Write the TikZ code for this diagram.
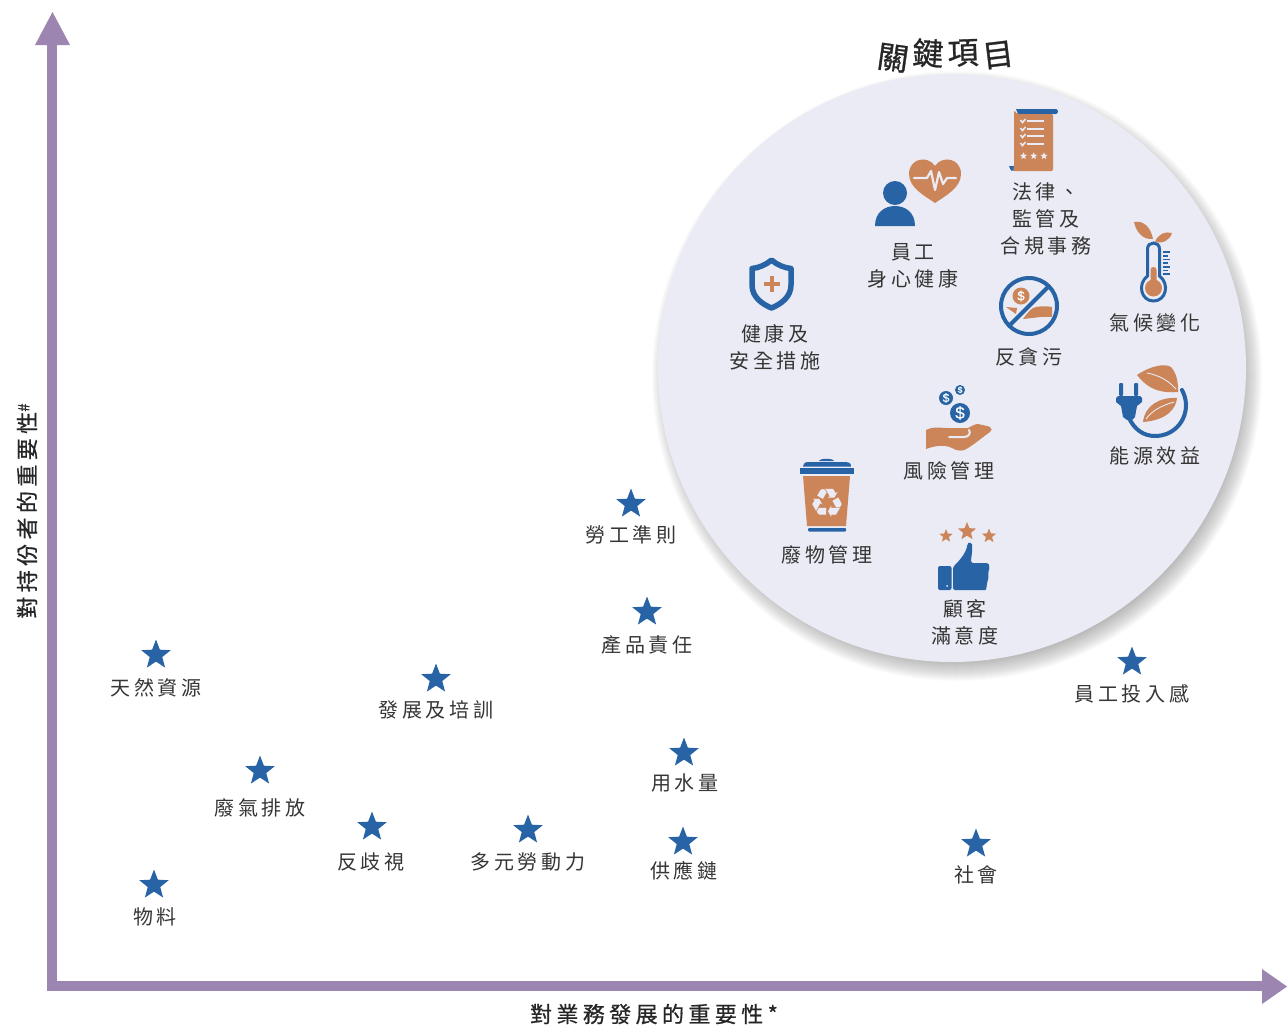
\documentclass[tikz,border=0pt]{standalone}
\usepackage{fontspec}
\setmainfont[LetterSpace=18]{Noto Sans CJK TC}
\newfontfamily\strongfont[LetterSpace=20,FakeBold=0.7]{Noto Sans CJK TC}
\newfontfamily\titlefont[FakeBold=0.9]{Noto Sans CJK TC}
\newfontfamily\dollarfont[FakeBold=0.5]{Liberation Sans}
\newfontfamily\symfont{DejaVu Sans}
\usetikzlibrary{shapes.geometric}
\definecolor{axisc}{HTML}{9D85B2}
\definecolor{bluec}{HTML}{2763A5}
\definecolor{orangec}{HTML}{CC8559}
\definecolor{discc}{HTML}{EAEBF4}
\definecolor{textc}{HTML}{353535}
\tikzset{
  lbl/.style={text=textc,align=center,inner sep=0pt,font=\fontsize{20}{27}\selectfont},
  bigstar/.style={star,star points=5,star point ratio=2.35,fill=bluec,draw=none,minimum size=31pt,inner sep=0pt},
  ostar/.style={star,star points=5,star point ratio=2.3,fill=orangec,draw=none,inner sep=0pt},
  wstar/.style={star,star points=5,star point ratio=2.3,fill=discc,draw=none,inner sep=0pt,minimum size=7.5pt},
  axisline/.style={line width=10.5pt,draw=axisc},
  axistext/.style={text=black!85,inner sep=0pt,font=\strongfont\fontsize{22}{25}\selectfont},
  title/.style={text=black!85,inner sep=0pt,font=\titlefont\fontsize{31}{32}\selectfont},
  coin/.style={circle,fill=bluec,inner sep=0pt,text=white}
}
\begin{document}
\begin{tikzpicture}[x=1pt,y=-1pt]
\useasboundingbox (0,0) rectangle (1287,1026);
% axes
\coordinate (orig) at (52,986);
\coordinate (ytip) at (52,40);
\coordinate (xtip) at (1266,986);
\draw[axisline,line cap=rect] (ytip) -- (orig);
\draw[axisline] (orig) -- (xtip);
\fill[axisc] (35,45) -- (52.5,12) -- (70,45) -- cycle;
\fill[axisc] (1262,969) -- (1287,986.5) -- (1262,1004) -- cycle;
\node[axistext] (xlab) at (654,1014) {對業務發展的重要性*};
\node[axistext,rotate=90] (ylab) at (27,511) {對持份者的重要性\raisebox{6pt}{\fontsize{15}{15}\selectfont\#}};
% disc with shadow
\foreach \r in {278,279,...,305}{
  \fill[black,opacity=0.015] (957,376) circle [radius=\r];
}
\fill[discc] (952,368) circle [radius=294];
% title
\node[title,rotate=-8] (t1) at (893,58) {關};
\node[title,rotate=-3] (t2) at (928,53) {鍵};
\node[title,rotate=2] (t3) at (963,53) {項};
\node[title,rotate=7] (t4) at (998,55) {目};
% outer stars
\foreach \n/\x/\y in {a/631/504,b/647/612,c/156/655,d/436/679,e/1132/662,f/684/753,g/260/771,h/372/827,i/528/830,j/683/842,k/976/844,l/154/885}{
  \node[bigstar] (s\n) at (\x,\y) {};
}
\node[lbl] (la) at (631,535) {勞工準則};
\node[lbl] (lb) at (647,645) {產品責任};
\node[lbl] (lc) at (156,688) {天然資源};
\node[lbl] (ld) at (436,710) {發展及培訓};
\node[lbl] (le) at (1132,694) {員工投入感};
\node[lbl] (lf) at (685,783) {用水量};
\node[lbl] (lg) at (260,808) {廢氣排放};
\node[lbl] (lh) at (371,862) {反歧視};
\node[lbl] (li) at (528,862) {多元勞動力};
\node[lbl] (lj) at (684,871) {供應鏈};
\node[lbl] (lk) at (976,875) {社會};
\node[lbl] (ll) at (155,917) {物料};
% disc labels
\node[lbl] (m1) at (1046,219) {法律、\\監管及\\合規事務};
\node[lbl] (m2) at (913,265.5) {員工\\身心健康};
\node[lbl] (m3) at (775,347.5) {健康及\\安全措施};
\node[lbl] (m4) at (1155,323) {氣候變化};
\node[lbl] (m5) at (1029,357) {反貪污};
\node[lbl] (m6) at (1155,456) {能源效益};
\node[lbl] (m7) at (949,471) {風險管理};
\node[lbl] (m8) at (827,555) {廢物管理};
\node[lbl] (m9) at (965,622.5) {顧客\\滿意度};
% heart + person
\fill[orangec] (935,203) .. controls (925,196) and (909,188) .. (909,174) .. controls (909,158) and (928,155) .. (935,166) .. controls (942,155) and (961,158) .. (961,174) .. controls (961,188) and (945,196) .. (935,203) -- cycle;
\draw[discc,line width=2.2pt,line join=round,line cap=round] (914,178) -- (927,178) -- (931,171) -- (935,190) -- (939,172) -- (943,184) -- (947,178) -- (956,178);
\fill[bluec] (895,193) circle [radius=12];
\fill[bluec] (875,226) .. controls (875,212) and (885,206) .. (895,206) .. controls (905,206) and (915,212) .. (915,226) -- cycle;
% scroll
\fill[bluec] (1016,109) -- (1056,109) .. controls (1058.5,109) and (1058.5,114) .. (1056,114) -- (1018,114) -- cycle;
\fill[bluec] (1009,166) -- (1015,166) -- (1015,170.5) -- (1011,170.5) -- cycle;
\fill[orangec,rounded corners=1.5pt] (1014,110) -- (1017,114) -- (1053,114) -- (1053,171) -- (1013,171) -- (1014,166) -- cycle;
\foreach \y in {121,129,136,144}{
  \draw[discc,line width=1.6pt] (1027,\y) -- (1044,\y);
  \draw[discc,line width=1.6pt] (1020.5,\y-1) -- (1022.5,\y+1.5) -- (1025.5,\y-2);
}
\foreach \n/\x in {1/1023.5,2/1033.7,3/1044}{\node[wstar] (sc\n) at (\x,156) {};}
% thermometer
\fill[orangec] (1134,222) .. controls (1144,220) and (1151,228) .. (1153,239) .. controls (1143,240) and (1136,232) .. (1134,222) -- cycle;
\fill[orangec] (1155,242) .. controls (1158,234) and (1165,231) .. (1172,233) .. controls (1170,240) and (1163,244) .. (1155,242) -- cycle;
\draw[bluec,line width=3pt] (1147.5,276) -- (1147.5,249) .. controls (1147.5,241) and (1159.5,241) .. (1159.5,249) -- (1159.5,276) .. controls (1170,284) and (1166,301) .. (1153.5,301) .. controls (1141,301) and (1137,284) .. (1147.5,276) -- cycle;
\fill[orangec] (1150.5,270) .. controls (1150.5,266) and (1156.5,266) .. (1156.5,270) -- (1156.5,282) -- (1150.5,282) -- cycle;
\fill[orangec] (1153.5,288) circle [radius=8.5];
\foreach \y/\w in {252/7,255.7/5,259.4/7,263.1/5,266.8/7,270.5/5,274.2/7}{
  \draw[bluec,line width=1.8pt] (1163,\y) -- (1163+\w,\y);
}
% no-corruption
\draw[bluec,line width=4pt] (1029,306) circle [radius=28];
\node[coin,fill=orangec,minimum size=17pt,font=\dollarfont\fontsize{13}{13}\selectfont] (c0) at (1021,296) {\$};
\fill[orangec] (1006,307) -- (1017,308) -- (1016,314) -- cycle;
\fill[orangec] (1023,319) .. controls (1028,312) and (1031,308) .. (1036,307) .. controls (1042,306) and (1047,306) .. (1052,307) -- (1052,317) .. controls (1044,316) and (1034,318) .. (1023,319) -- cycle;
\draw[discc,line width=7pt] (1015,320) -- (1043,292);
\draw[bluec,line width=4pt] (1010,325) -- (1049,286);
% shield
\draw[bluec,line width=5.5pt,line join=round] (771.5,260) .. controls (777,265) and (785,268) .. (791,268.5) -- (791,285) .. controls (791,297) and (781,304) .. (771.5,308) .. controls (762,304) and (752,297) .. (752,285) -- (752,268.5) .. controls (758,268) and (766,265) .. (771.5,260) -- cycle;
\fill[orangec] (770,276) rectangle (774,292);
\fill[orangec] (764,282) rectangle (780,286);
% coins + hand
\node[coin,minimum size=14pt,font=\dollarfont\fontsize{12}{12}\selectfont] (c1) at (946,398) {\$};
\node[coin,minimum size=10pt,font=\dollarfont\fontsize{8.5}{8.5}\selectfont] (c2) at (960,390) {\$};
\node[coin,minimum size=20pt,font=\dollarfont\fontsize{17}{17}\selectfont] (c3) at (960,413) {\$};
\fill[orangec] (926,430) .. controls (934,426) and (941,428) .. (947,428) -- (968,428) .. controls (972,426) and (975,424) .. (978,424) .. controls (982,425) and (988,426) .. (990,427) .. controls (992,428) and (992,431) .. (990,432) .. controls (984,436) and (976,443) .. (968,448) .. controls (963,452) and (957,451) .. (952,448) .. controls (944,444) and (934,446) .. (926,449) -- cycle;
\draw[discc,line width=2pt,line cap=round] (949,437) -- (964,437) .. controls (969,437) and (971,433) .. (969,430);
% bin
\fill[bluec] (819,461) .. controls (820,458) and (833,458) .. (834,461) -- cycle;
\fill[bluec] (803,466.5) .. controls (804,462) and (806,462) .. (808,462) -- (846,462) .. controls (849,462) and (851,463) .. (851,466.5) -- cycle;
\fill[bluec] (800,468) rectangle (854,474);
\fill[orangec] (803,476) -- (850,476) -- (846,526) -- (807,526) -- cycle;
\fill[bluec,rounded corners=1pt] (808,528) rectangle (846,531.5);
\node[text=discc,inner sep=0pt,font=\symfont\fontsize{40}{40}\selectfont] (rec) at (827,503) {♻};
% thumb
\node[ostar,minimum size=14pt] (st1) at (946,536) {};
\node[ostar,minimum size=19pt] (st2) at (967,531.5) {};
\node[ostar,minimum size=15pt] (st3) at (989,536) {};
\fill[bluec,rounded corners=2pt] (938,566) rectangle (951.5,590);
\fill[discc] (947,586) circle [radius=1];
\fill[bluec,rounded corners=1.5pt] (953,590) -- (953,567) .. controls (960,560) and (966,553) .. (967.5,544) .. controls (969,542) and (972,543) .. (972,546) .. controls (972.5,552) and (971,558) .. (971,563) -- (988,563) .. controls (990,566) and (989,570) .. (988,572) .. controls (989,576) and (988,580) .. (987,582) .. controls (987,586) and (986,590) .. (984,590) -- cycle;
% plug + leaves
\fill[orangec] (1137,375) .. controls (1150,366) and (1165,363) .. (1171,367) .. controls (1178,375) and (1178,385) .. (1178,392) .. controls (1165,393) and (1150,392) .. (1137,375) -- cycle;
\draw[discc,line width=0.9pt] (1147,373) .. controls (1158,375) and (1168,380) .. (1176,389);
\fill[orangec] (1143,422) .. controls (1145,405) and (1160,397) .. (1177,398) .. controls (1176,408) and (1168,420) .. (1143,422) -- cycle;
\draw[discc,line width=0.9pt] (1146,419) .. controls (1152,411) and (1160,406) .. (1174,402);
\draw[bluec,line width=4pt,line cap=round] (1128,416) .. controls (1134,430) and (1144,436) .. (1155,436) .. controls (1173,436) and (1186,422) .. (1186,405) .. controls (1186,399) and (1184,394) .. (1182,390);
\fill[bluec,rounded corners=1pt] (1119,383) rectangle (1123,396);
\fill[bluec,rounded corners=1pt] (1134,383) rectangle (1138,396);
\fill[bluec] (1116,398) -- (1118,396) -- (1140,396) -- (1142,398) -- (1142,402) -- (1137,406) -- (1135,417) -- (1132,420) -- (1127,420) -- (1123,417) -- (1121,406) -- (1116,402) -- cycle;
\end{tikzpicture}
\end{document}
